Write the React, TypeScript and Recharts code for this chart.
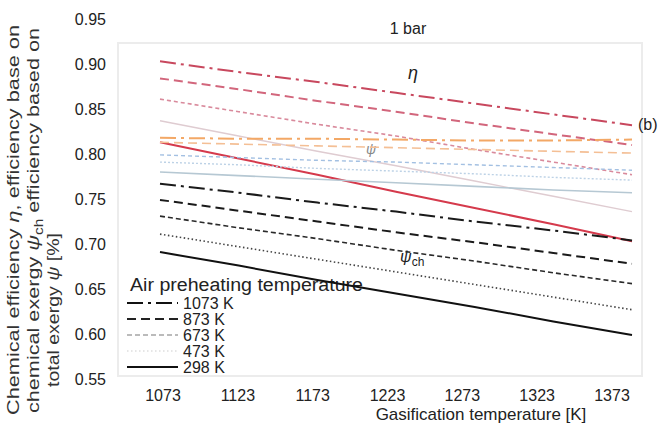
import React from 'react';
import { LineChart, Line, XAxis, YAxis } from 'recharts';

// gasification temperature [K]
const GAS_T = [1073, 1123, 1173, 1223, 1273, 1323, 1373];
const X_TICKS = [1073, 1123, 1173, 1223, 1273, 1323, 1373];
const Y_TICKS = [0.55, 0.6, 0.65, 0.7, 0.75, 0.8, 0.85, 0.9, 0.95];
const AIR_T = ['1073 K', '873 K', '673 K', '473 K', '298 K'];

// chemical efficiency eta
const ETA_1073 = [0.903, 0.891, 0.88, 0.868, 0.856, 0.844, 0.832];
const ETA_873 = [0.884, 0.872, 0.859, 0.847, 0.834, 0.822, 0.81];
const ETA_673 = [0.861, 0.847, 0.833, 0.82, 0.805, 0.791, 0.777];
const ETA_473 = [0.837, 0.82, 0.803, 0.787, 0.77, 0.753, 0.736];
const ETA_298 = [0.813, 0.795, 0.777, 0.758, 0.74, 0.722, 0.703];

// efficiency based on total exergy psi
const PSI_1073 = [0.818, 0.817, 0.817, 0.816, 0.815, 0.815, 0.816];
const PSI_873 = [0.813, 0.811, 0.809, 0.807, 0.805, 0.803, 0.801];
const PSI_673 = [0.799, 0.796, 0.793, 0.791, 0.788, 0.785, 0.782];
const PSI_473 = [0.791, 0.788, 0.784, 0.781, 0.778, 0.774, 0.771];
const PSI_298 = [0.78, 0.776, 0.772, 0.768, 0.764, 0.76, 0.757];

// efficiency based on chemical exergy psi_ch
const PSICH_1073 = [0.767, 0.757, 0.746, 0.736, 0.725, 0.715, 0.704];
const PSICH_873 = [0.749, 0.737, 0.725, 0.713, 0.702, 0.69, 0.678];
const PSICH_673 = [0.731, 0.718, 0.706, 0.693, 0.681, 0.668, 0.656];
const PSICH_473 = [0.711, 0.697, 0.683, 0.669, 0.655, 0.641, 0.627];
const PSICH_298 = [0.691, 0.676, 0.66, 0.645, 0.63, 0.614, 0.599];

const FONT = '"Liberation Sans", Arial, Helvetica, sans-serif';

// one dash style per air preheating temperature
const DASHES = ['16 5 3 5', '9 5', '5 3', '1.5 2.5', undefined];

const groups = [
  {
    name: 'eta',
    colors: ['#c8485e', '#d2667c', '#d98a9c', '#dfccd1', '#d53a4c'],
    dashes: ['16 5 3 5', '9 5', '4 3', undefined, undefined],
    widths: [2, 2, 1.6, 1.4, 2],
    values: [ETA_1073, ETA_873, ETA_673, ETA_473, ETA_298],
  },
  {
    name: 'psi',
    colors: ['#f3a866', '#f4bf95', '#a3c0e2', '#bdd2e6', '#b6c8d3'],
    dashes: ['16 5 3 5', '9 5', '4 3', '2 2', undefined],
    widths: [2, 1.6, 1.4, 1.4, 1.6],
    values: [PSI_1073, PSI_873, PSI_673, PSI_473, PSI_298],
  },
  {
    name: 'psich',
    colors: ['#1a1a1a', '#1a1a1a', '#2a2a2a', '#444444', '#111111'],
    dashes: DASHES,
    widths: [2, 2, 1.6, 1.6, 2],
    values: [PSICH_1073, PSICH_873, PSICH_673, PSICH_473, PSICH_298],
  },
];

const LEGEND_COLORS = ['#111', '#222', '#bbbbbb', '#e6e6e6', '#111'];

const series = groups.flatMap(g =>
  g.values.map((vals, i) => ({
    key: `${g.name}_${AIR_T[i]}`,
    vals,
    color: g.colors[i],
    dash: g.dashes[i],
    width: g.widths[i],
  }))
);

const data = GAS_T.map((t, i) => {
  const row: any = { t };
  series.forEach(s => {
    row[s.key] = s.vals[i];
  });
  return row;
});

const txt = { fontFamily: FONT, fill: '#222' };

const YTitle = () => (
  <g style={{ fontFamily: FONT, fontSize: 17, fill: '#333' }}>
    <text transform="translate(19,415) rotate(-90)" textLength={390} lengthAdjust="spacingAndGlyphs">
      Chemical efficiency <tspan fontStyle="italic">η</tspan>, efficiency base on
    </text>
    <text transform="translate(39,413) rotate(-90)" textLength={385} lengthAdjust="spacingAndGlyphs">
      chemical exergy <tspan fontStyle="italic">ψ</tspan>
      <tspan fontSize={12} dy={4}>ch</tspan>
      <tspan dy={-4}> efficiency based on</tspan>
    </text>
    <text transform="translate(59,387) rotate(-90)" textLength={154} lengthAdjust="spacingAndGlyphs">
      total exergy <tspan fontStyle="italic">ψ</tspan> [%]
    </text>
  </g>
);

const AirLegend = () => (
  <g style={{ fontFamily: FONT }}>
    <text x={130} y={291} fontSize={18} fill="#222" textLength={233} lengthAdjust="spacingAndGlyphs">
      Air preheating temperature
    </text>
    {AIR_T.map((label, i) => {
      const y = 303 + i * 16;
      return (
        <g key={label}>
          <line x1={127} x2={178} y1={y} y2={y} stroke={LEGEND_COLORS[i]} strokeWidth={2} strokeDasharray={DASHES[i]} />
          <text x={183} y={y + 6} fontSize={16} fill="#222">{label}</text>
        </g>
      );
    })}
  </g>
);

export default function App() {
  return (
    <div style={{ position: 'absolute', left: 0, top: 0, width: 659, height: 428, background: '#fff' }}>
      <LineChart width={659} height={428} data={data} margin={{ top: 19, right: 14, bottom: 19, left: 58 }}>
        <XAxis
          xAxisId="ticks"
          dataKey="t"
          type="number"
          domain={[1073, 1373]}
          allowDataOverflow
          ticks={X_TICKS}
          padding={{ left: 45, right: 33 }}
          axisLine={false}
          tickLine={false}
          tickSize={0}
          tickMargin={11}
          tick={{ ...txt, fontSize: 16 }}
          height={30}
        />
        <XAxis xAxisId="lines" dataKey="t" type="number" domain={[1073, 1373]} hide height={0} padding={{ left: 42, right: 13 }} />
        <YAxis
          type="number"
          domain={[0.55, 0.95]}
          ticks={Y_TICKS}
          allowDataOverflow
          axisLine={false}
          tickLine={false}
          tickSize={0}
          tickMargin={12}
          width={60}
          tick={{ ...txt, fontSize: 16 }}
          tickFormatter={(v: number) => v.toFixed(2)}
        />
        {/* faint frame of the scanned plot box */}
        <rect x={118} y={43} width={524} height={333} fill="none" stroke="#ececec" strokeWidth={2} />
        {series.map(s => (
          <Line
            key={s.key}
            xAxisId="lines"
            dataKey={s.key}
            stroke={s.color}
            strokeWidth={s.width}
            strokeDasharray={s.dash}
            dot={false}
            activeDot={false}
            isAnimationActive={false}
          />
        ))}
        <YTitle />
        <AirLegend />
        <text x={408} y={34} textAnchor="middle" fontSize={16} style={txt}>1 bar</text>
        <text x={481} y={420} textAnchor="middle" fontSize={17} style={txt}>Gasification temperature [K]</text>
        <text x={413} y={79} textAnchor="middle" fontSize={18} fontStyle="italic" style={txt}>η</text>
        <text x={371} y={154} textAnchor="middle" fontSize={14} fontStyle="italic" style={{ fontFamily: FONT, fill: '#888' }}>ψ</text>
        <text x={400} y={262} fontSize={16} fontStyle="italic" style={txt}>
          ψ<tspan fontSize={12} fontStyle="normal" dy={4}>ch</tspan>
        </text>
        <text x={638} y={130} fontSize={16} style={txt}>(b)</text>
      </LineChart>
    </div>
  );
}
